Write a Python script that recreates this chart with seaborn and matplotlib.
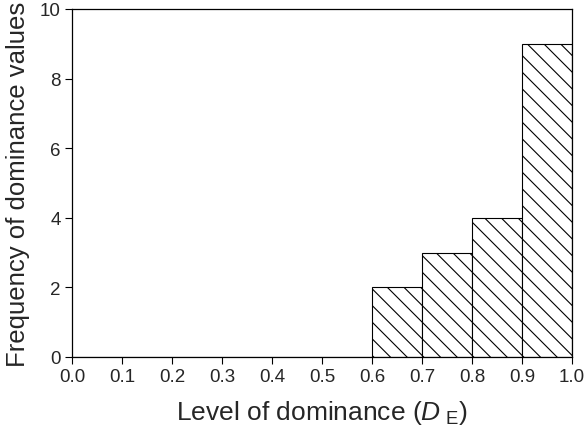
import matplotlib
matplotlib.use("Agg")
import matplotlib.pyplot as plt
import seaborn as sns

# Histogram of dominance levels
bin_edges = [0.0, 0.1, 0.2, 0.3, 0.4, 0.5, 0.6, 0.7, 0.8, 0.9, 1.0]
bin_counts = [0, 0, 0, 0, 0, 0, 2, 3, 4, 9]
x_ticks = [0.0, 0.1, 0.2, 0.3, 0.4, 0.5, 0.6, 0.7, 0.8, 0.9, 1.0]
y_ticks = [0, 2, 4, 6, 8, 10]

sns.set_style("ticks")
plt.rcParams['font.family'] = ['Liberation Sans', 'DejaVu Sans']
plt.rcParams['mathtext.fontset'] = 'custom'
plt.rcParams['mathtext.it'] = 'Liberation Sans:italic'
plt.rcParams['mathtext.rm'] = 'Liberation Sans'
plt.rcParams['hatch.linewidth'] = 0.8

fig = plt.figure(figsize=(5.84, 4.31), dpi=100)
ax = fig.add_axes([72 / 584, 1 - 358 / 431, 500 / 584, 348 / 431])

centers = [(a + b) / 2 for a, b in zip(bin_edges[:-1], bin_edges[1:])]
sns.histplot(x=centers, weights=bin_counts, bins=bin_edges, ax=ax,
             color='white', edgecolor='black', linewidth=0.8,
             alpha=1, hatch='\\\\')

ax.set_xlim(0, 1)
ax.set_ylim(0, 10)
ax.set_xticks(x_ticks)
ax.set_xticklabels([f'{t:.1f}' for t in x_ticks], fontsize=13.5)
ax.set_yticks(y_ticks)
ax.set_yticklabels([str(t) for t in y_ticks], fontsize=13.5)
ax.tick_params(direction='out', length=5, width=0.8, color='black', pad=3)
for s in ax.spines.values():
    s.set_linewidth(0.9)
    s.set_color('black')

ax.set_xlabel(r'Level of dominance ($D_{\ \mathrm{E}}$)', fontsize=19, labelpad=9)
ax.set_ylabel('Frequency of dominance values', fontsize=18.5, labelpad=7)

fig.savefig('out.png', dpi=100)
